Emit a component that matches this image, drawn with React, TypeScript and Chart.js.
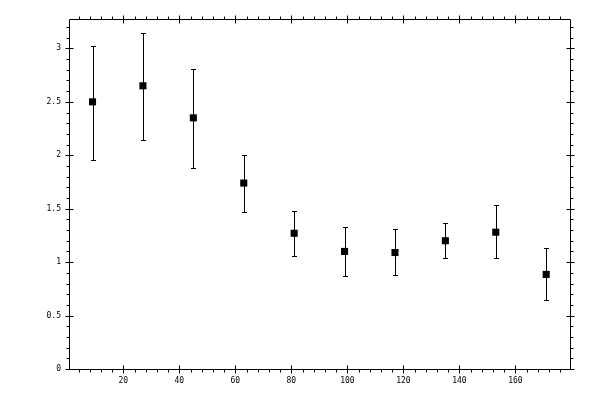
import React, { useEffect, useRef } from "react";
import { Chart, registerables } from "chart.js";

Chart.register(...registerables);

const xValues = [9, 27, 45, 63, 81, 99, 117, 135, 153, 171];
const yValues = [2.5, 2.65, 2.35, 1.74, 1.27, 1.1, 1.09, 1.2, 1.28, 0.885];
const yHigh = [3.02, 3.14, 2.81, 2.0, 1.475, 1.325, 1.31, 1.37, 1.53, 1.13];
const yLow = [1.96, 2.14, 1.88, 1.47, 1.06, 0.87, 0.88, 1.035, 1.035, 0.645];

const xMajorTicks = [20, 40, 60, 80, 100, 120, 140, 160];
const yMajorTicks = [0, 0.5, 1, 1.5, 2, 2.5, 3];
const xTickLabels = ["20", "40", "60", "80", "100", "120", "140", "160"];
const yTickLabels = ["0", "0.5", "1", "1.5", "2", "2.5", "3"];
const xMinorStep = 4;
const yMinorStep = 0.1;

const X_MIN = 0.6;
const X_MAX = 179.5;
const Y_MIN = 0;
const Y_MAX = 3.275;

const framePlugin = {
  id: "frameTicks",
  beforeDatasetsDraw(chart: any) {
    const { ctx, chartArea, scales } = chart;
    const xs = scales.x;
    const ys = scales.y;
    const L = Math.round(chartArea.left) + 0.5;
    const R = Math.round(chartArea.right) + 0.5;
    const T = Math.round(chartArea.top) + 0.5;
    const B = Math.round(chartArea.bottom) + 0.5;
    ctx.save();
    ctx.strokeStyle = "#000";
    ctx.lineWidth = 1;
    ctx.beginPath();
    ctx.rect(L, T, R - L, B - T);
    for (let v = xMinorStep; v < X_MAX; v += xMinorStep) {
      const p = Math.round(xs.getPixelForValue(v)) + 0.5;
      ctx.moveTo(p, B);
      ctx.lineTo(p, B + 3);
      ctx.moveTo(p, T);
      ctx.lineTo(p, T - 3);
    }
    for (const v of xMajorTicks) {
      const p = Math.round(xs.getPixelForValue(v)) + 0.5;
      ctx.moveTo(p, B - 4);
      ctx.lineTo(p, B + 4);
      ctx.moveTo(p, T - 4);
      ctx.lineTo(p, T + 4);
    }
    for (let i = 1; Y_MIN + i * yMinorStep < Y_MAX; i++) {
      const v = Y_MIN + i * yMinorStep;
      const p = Math.round(ys.getPixelForValue(v)) + 0.5;
      ctx.moveTo(L, p);
      ctx.lineTo(L - 3, p);
      ctx.moveTo(R, p);
      ctx.lineTo(R + 3, p);
    }
    for (const v of yMajorTicks) {
      const p = Math.round(ys.getPixelForValue(v)) + 0.5;
      ctx.moveTo(L - 4, p);
      ctx.lineTo(L + 4, p);
      ctx.moveTo(R - 4, p);
      ctx.lineTo(R + 4, p);
    }
    ctx.stroke();

    // error bars
    ctx.beginPath();
    for (let i = 0; i < xValues.length; i++) {
      const px = Math.round(xs.getPixelForValue(xValues[i])) + 0.5;
      const ph = Math.round(ys.getPixelForValue(yHigh[i])) + 0.5;
      const pl = Math.round(ys.getPixelForValue(yLow[i])) + 0.5;
      ctx.moveTo(px, ph);
      ctx.lineTo(px, pl);
      ctx.moveTo(px - 2.5, ph);
      ctx.lineTo(px + 2.5, ph);
      ctx.moveTo(px - 2.5, pl);
      ctx.lineTo(px + 2.5, pl);
    }
    ctx.stroke();
    ctx.restore();
  },
};

export default function App() {
  const ref = useRef<HTMLCanvasElement | null>(null);
  useEffect(() => {
    if (!ref.current) return;
    const font = { family: "'DejaVu Sans Mono', monospace", size: 8 };
    const chart = new Chart(ref.current, {
      type: "scatter",
      data: {
        datasets: [
          {
            data: xValues.map((x, i) => ({ x, y: yValues[i] })),
            pointStyle: "rect",
            pointRadius: 5,
            pointHoverRadius: 5,
            backgroundColor: "#000",
            borderColor: "#000",
            borderWidth: 0,
          },
        ],
      },
      options: {
        animation: false,
        responsive: false,
        devicePixelRatio: 1,
        events: [],
        layout: { padding: { top: 19, right: 30, left: 0, bottom: 0 } },
        plugins: { legend: { display: false }, tooltip: { enabled: false } },
        scales: {
          x: {
            type: "linear",
            min: X_MIN,
            max: X_MAX,
            grid: { display: false, drawTicks: false },
            border: { display: false },
            afterBuildTicks: (s: any) => {
              s.ticks = xMajorTicks.map((v) => ({ value: v }));
            },
            afterFit: (s: any) => {
              s.height = 31;
            },
            ticks: {
              padding: 7,
              color: "#000",
              font,
              maxRotation: 0,
              autoSkip: false,
              callback: (v: any) => xTickLabels[xMajorTicks.indexOf(Number(v))] ?? "",
            },
          },
          y: {
            type: "linear",
            min: Y_MIN,
            max: Y_MAX,
            grid: { display: false, drawTicks: false },
            border: { display: false },
            afterBuildTicks: (s: any) => {
              s.ticks = yMajorTicks.map((v) => ({ value: v }));
            },
            afterFit: (s: any) => {
              s.width = 69;
            },
            ticks: {
              padding: 8,
              color: "#000",
              font,
              autoSkip: false,
              callback: (v: any) => yTickLabels[yMajorTicks.indexOf(Number(v))] ?? "",
            },
          },
        },
      },
      plugins: [framePlugin],
    } as any);
    return () => chart.destroy();
  }, []);
  return (
    <div style={{ position: "fixed", left: 0, top: 0, width: 600, height: 400, background: "#fff" }}>
      <canvas ref={ref} width={600} height={400} style={{ width: 600, height: 400 }} />
    </div>
  );
}
